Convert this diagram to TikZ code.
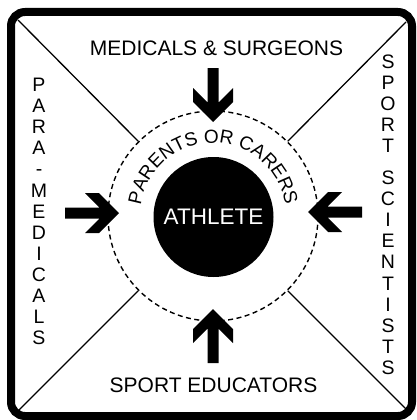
\documentclass[tikz,border=0pt]{standalone}
\usepackage{fontspec}
\setmainfont{Liberation Sans}
\usetikzlibrary{decorations.text}

\begin{document}
\begin{tikzpicture}[x=1pt,y=1pt]
\tikzstyle{frame}= [line width=8pt,rounded corners=14pt]
\tikzstyle{ring}= [circle,draw,dash pattern=on 5pt off 3.5pt,line width=1.4pt,minimum size=210pt,inner sep=0pt]
\tikzstyle{core}= [circle,fill=black,text=white,minimum size=120pt,inner sep=0pt,font=\fontsize{22.5}{27}\selectfont]
\tikzstyle{spoke}= [line width=1.3pt]
\tikzstyle{lbl}= [inner sep=0pt,font=\fontsize{21}{25}\selectfont]
\tikzstyle{col}= [inner sep=0pt,align=center,font=\fontsize{19.5}{21.1}\selectfont]

\useasboundingbox (0,0) rectangle (416,-420);
\draw[frame] (11,-12) rectangle (412,-416);

\path
	(213,-216) node[ring] (ring) {}
	(213.5,-217) node[core] (athlete) {ATHLETE}
	(216.5,-56) node[lbl,anchor=base] (medics) {MEDICALS \& SURGEONS}
	(213.5,-392) node[lbl,anchor=base] (educators) {SPORT EDUCATORS}
	(39,-211.5) node[col] (para) {P\\A\\R\\A\\-\\M\\E\\D\\I\\C\\A\\L\\S}
	(388,-214.5) node[col] (scient) {S\\P\\O\\R\\T\\[11pt]S\\C\\I\\E\\N\\T\\I\\S\\T\\S}
;
\coordinate (tl) at (18,-20);
\coordinate (tr) at (406,-22);
\coordinate (bl) at (18,-411);
\coordinate (br) at (406,-409);
\draw[spoke] (tl) -- (ring.135);
\draw[spoke] (tr) -- (ring.45);
\draw[spoke] (bl) -- (ring.225);
\draw[spoke] (br) -- (ring.315);

\path[decorate,decoration={text along path,text align=center,
	text={|\fontsize{19}{19}\selectfont|PARENTS OR CARERS}}]
	([shift={(172:73)}]ring.center) arc[start angle=172,end angle=8,radius=73];

\foreach \x/\y/\r in {213/-122/-90, 213/-309/90, 119/-213/0, 308/-212/180}
	\fill[shift={(\x,\y)},rotate=\r] (0,0) -- (-20,20) -- (-34,20) -- (-19.5,5.5) -- (-54,5.5)
		-- (-54,-5.5) -- (-19.5,-5.5) -- (-34,-20) -- (-20,-20) -- cycle;
\end{tikzpicture}
\end{document}
